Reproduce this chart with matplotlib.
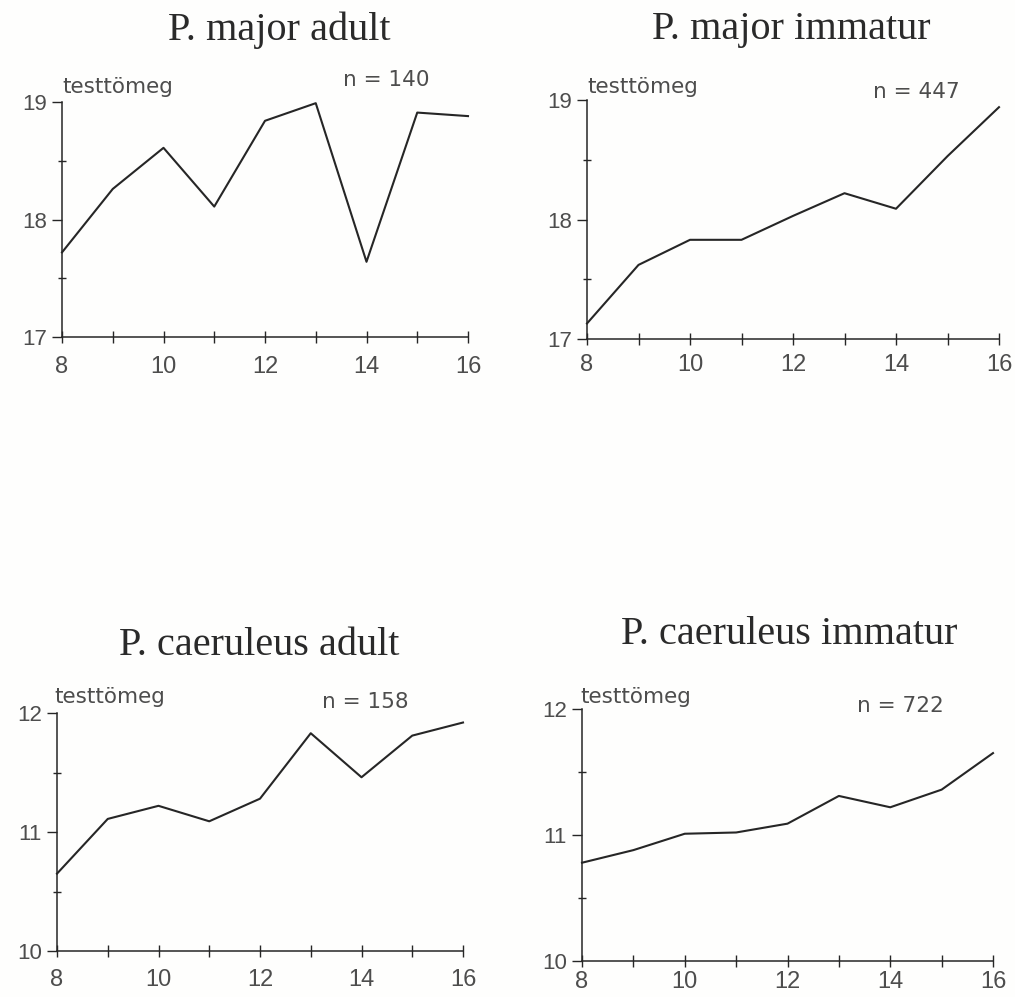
import matplotlib.pyplot as plt
from matplotlib.ticker import MultipleLocator

plt.rcParams['font.family'] = ['Liberation Sans', 'DejaVu Sans']

# age (hours) on the x axis, body mass (g) on the y axis
hours = [8, 9, 10, 11, 12, 13, 14, 15, 16]

major_adult = [17.72, 18.26, 18.61, 18.11, 18.84, 18.99, 17.64, 18.91, 18.88]
major_immatur = [17.13, 17.62, 17.83, 17.83, 18.03, 18.22, 18.09, 18.53, 18.94]
caeruleus_adult = [10.65, 11.11, 11.22, 11.09, 11.28, 11.83, 11.46, 11.81, 11.92]
caeruleus_immatur = [10.78, 10.88, 11.01, 11.02, 11.09, 11.31, 11.22, 11.36, 11.65]

titles = ["P. major adult", "P. major immatur",
          "P. caeruleus adult", "P. caeruleus immatur"]
counts = [140, 447, 158, 722]
ylims = [(17, 19), (17, 19), (10, 12), (10, 12)]
series = [major_adult, major_immatur, caeruleus_adult, caeruleus_immatur]

W, H = 1015, 997
ink = '#262626'
grey = '#4d4d4d'

# axes boxes in pixels: left, top, right, bottom
boxes = [(62, 102, 468, 337), (587, 100, 999, 339),
         (57, 713, 463, 951), (582, 709, 993, 961)]
xpads = [10, 7, 9, 3.5]
title_pos = [(279, 40), (791, 39), (259, 655), (789, 644)]
label_pos = [(8.0, 19.08), (8.0, 19.06), (7.95, 12.08), (7.97, 12.05)]
n_pos = [(13.53, 19.14), (13.55, 19.02), (13.22, 12.04), (13.35, 11.98)]

fig = plt.figure(figsize=(W / 100, H / 100), dpi=100)
fig.patch.set_facecolor('#fefefd')

for i in range(4):
    l, t, r, b = boxes[i]
    ax = fig.add_axes([l / W, 1 - b / H, (r - l) / W, (b - t) / H])
    ax.set_facecolor('none')
    ax.plot(hours, series[i], color=ink, lw=1.5, clip_on=False)
    ax.set_xlim(8, 16)
    ax.set_ylim(*ylims[i])
    for s in ['top', 'right']:
        ax.spines[s].set_visible(False)
    for s in ['left', 'bottom']:
        ax.spines[s].set_color(ink)
        ax.spines[s].set_linewidth(1.1)

    ax.xaxis.set_major_locator(MultipleLocator(2))
    ax.xaxis.set_minor_locator(MultipleLocator(1))
    ax.yaxis.set_major_locator(MultipleLocator(1))
    ax.yaxis.set_minor_locator(MultipleLocator(0.5))
    ax.tick_params(axis='both', which='both', color=ink, width=1.0)
    ax.tick_params(axis='x', which='both', direction='inout', length=8)
    ax.tick_params(axis='x', which='major', labelsize=17, pad=xpads[i], labelcolor=grey)
    ax.tick_params(axis='y', which='major', direction='out', length=7,
                   labelsize=16, pad=4, labelcolor=grey)
    ax.tick_params(axis='y', which='minor', direction='inout', length=6)

    ax.text(*label_pos[i], "testtömeg", family='DejaVu Sans', fontsize=15.5,
            color=grey, ha='left', va='baseline', clip_on=False)
    ax.text(*n_pos[i], f"n = {counts[i]}", family='DejaVu Sans', fontsize=15.5,
            color=grey, ha='left', va='baseline', clip_on=False)

    tx, ty = title_pos[i]
    fig.text(tx / W, 1 - ty / H, titles[i], family='Liberation Serif',
             fontsize=29, color='#2a2a2a', ha='center', va='baseline')

fig.savefig('out.png', dpi=100, facecolor=fig.get_facecolor())
